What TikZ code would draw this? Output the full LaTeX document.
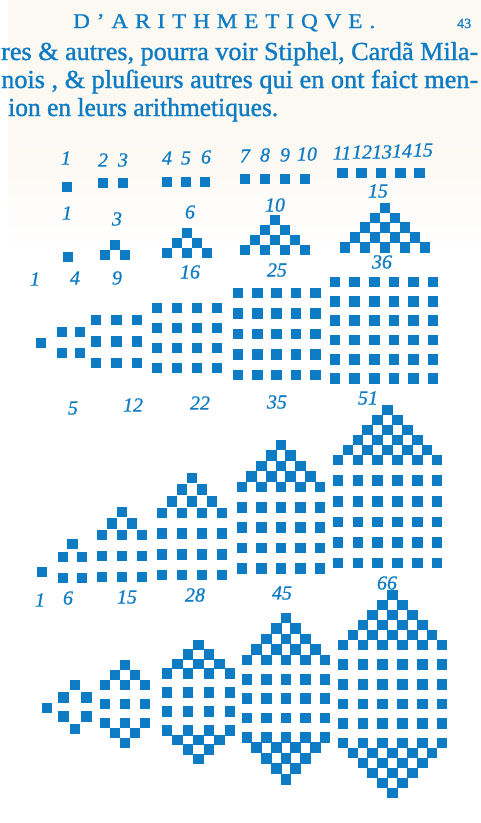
\documentclass[tikz,border=0pt]{standalone}
\usepackage{fontspec}
\setmainfont{Liberation Serif}
\usepackage{graphicx}
\definecolor{ink}{RGB}{14,124,196}
\definecolor{paper}{RGB}{252,248,242}
\tikzset{
  lab/.style={text=ink, font=\fontsize{20}{20}\selectfont\itshape\addfontfeature{FakeBold=0.8}, inner sep=0pt},
  body/.style={text=ink, anchor=base west, inner sep=0pt},
}
\newcommand\Sq[2]{\fill[ink] ({#1-5.3},{#2-5.3}) rectangle ({#1+5.3},{#2+5.3});}
\newcommand\Grid[6]{%
  \foreach \i in {1,...,#5}{\foreach \j in {1,...,#6}{%
    \pgfmathsetmacro\xx{#1+(\i-1)*#3}\pgfmathsetmacro\yy{#2+(\j-1)*#4}%
    \Sq{\xx}{\yy}}}}
\newcommand\TriRow[4]{%
  \foreach \i in {1,...,#4}{\pgfmathsetmacro\xx{#1+(\i-1-(#4-1)/2)*#3}\Sq{\xx}{#2}}}
\newcommand\Tri[5]{%
  \foreach \k in {1,...,#5}{\pgfmathsetmacro\yy{#2+(\k-1)*#4}\TriRow{#1}{\yy}{#3}{\k}}}
\newcommand\Pent[6]{%
  \Grid{#1}{#2}{#3}{#4}{#5}{#5}%
  \pgfmathsetmacro\pxc{#1+(#5-1)*#3/2}%
  \pgfmathtruncatemacro\pn{#5-1}%
  \foreach \k in {1,...,\pn}{\pgfmathsetmacro\yy{#2-(#5-\k)*#6}\TriRow{\pxc}{\yy}{#3}{\k}}}
\newcommand\Hex[6]{%
  \pgfmathsetmacro\hyn{#2+(#6-1)*#4}%
  \pgfmathsetmacro\hyb{\hyn+(#6-1)*#5}%
  \foreach \k in {1,...,#6}{%
    \pgfmathsetmacro\yy{#2+(\k-1)*#4}\TriRow{#1}{\yy}{#3}{\k}%
    \pgfmathsetmacro\yy{\hyb+(#6-\k)*#4}\TriRow{#1}{\yy}{#3}{\k}}%
  \ifnum#6>2
    \pgfmathtruncatemacro\hm{#6-2}%
    \foreach \m in {1,...,\hm}{\pgfmathsetmacro\yy{\hyn+\m*#5}\TriRow{#1}{\yy}{#3}{#6}}%
  \fi}
\begin{document}
\begin{tikzpicture}[x=1pt,y=-1pt]
\useasboundingbox (0,0) rectangle (481,823);
\fill[white] (0,0) rectangle (481,823);
\fill[paper] (8,0) rectangle (481,140);
\shade[top color=paper, bottom color=white] (8,139.5) rectangle (481,250);

% header and text
\node[body] (head) at (73,28) {\resizebox{302pt}{\height}{\fontsize{21}{21}\selectfont\addfontfeature{LetterSpace=30,FakeBold=1}D’ARITHMETIQVE.}};
\node[body] (folio) at (457,28) {\fontsize{14}{14}\selectfont\addfontfeature{FakeBold=1}43};
\node[body] (line1) at (1,60) {\resizebox{477pt}{\height}{\fontsize{26}{26}\selectfont\addfontfeature{FakeBold=1.2}res \& autres, pourra voir Stiphel, Cardã Mila-}};
\node[body] (line2) at (1,88) {\resizebox{477pt}{\height}{\fontsize{26}{26}\selectfont\addfontfeature{FakeBold=1.2}nois , \& pluſieurs autres qui en ont faict men-}};
\node[body] (line3) at (8,116) {\resizebox{270pt}{\height}{\fontsize{26}{26}\selectfont\addfontfeature{FakeBold=1.2}ion en leurs arithmetiques.}};

% linear numbers
\node[lab] (n1) at (66,158) {1};
\node[lab] (n2) at (103,160) {2};
\node[lab] (n3) at (123,160) {3};
\node[lab] (n4) at (167,158) {4};
\node[lab] (n5) at (186,158) {5};
\node[lab] (n6) at (206,157) {6};
\node[lab] (n7) at (245,156) {7};
\node[lab] (n8) at (265,155) {8};
\node[lab] (n9) at (285,155) {9};
\node[lab] (n10) at (307,154) {10};
\node[lab] (n11) at (342,153) {11};
\node[lab] (n12) at (362,152) {12};
\node[lab] (n13) at (382,152) {13};
\node[lab] (n14) at (402,151) {14};
\node[lab] (n15) at (423,150) {15};
\Sq{67}{187}
\TriRow{113}{183}{20}{2}
\TriRow{186}{182}{19}{3}
\TriRow{275}{179}{20}{4}
\TriRow{381}{173}{19.3}{5}

% triangular
\node[lab] (t1) at (67,213) {1};
\node[lab] (t3) at (117,219) {3};
\node[lab] (t6) at (190,212) {6};
\node[lab] (t10) at (275,205) {10};
\node[lab] (t15) at (378,191) {15};
\Sq{68}{257}
\Tri{115}{245}{20}{10}{2}
\Tri{187}{233}{20}{10}{3}
\Tri{275}{220}{20}{10}{4}
\Tri{385}{208}{20}{9.8}{5}

% square
\node[lab] (s1) at (35,279) {1};
\node[lab] (s4) at (75,278) {4};
\node[lab] (s9) at (117,278) {9};
\node[lab] (s16) at (190,272) {16};
\node[lab] (s25) at (277,270) {25};
\node[lab] (s36) at (382,262) {36};
\Sq{41}{343}
\Grid{62}{332}{18}{21}{2}{2}
\Grid{96}{320}{20.5}{21.5}{3}{3}
\Grid{157}{308}{20}{20}{4}{4}
\Grid{238}{293}{19.3}{20.5}{5}{5}
\Grid{335}{282}{19.6}{19.3}{6}{6}

% pentagonal
\node[lab] (p5) at (73,408) {5};
\node[lab] (p12) at (133,405) {12};
\node[lab] (p22) at (200,403) {22};
\node[lab] (p35) at (277,402) {35};
\node[lab] (p51) at (368,398) {51};
\Sq{42}{572}
\Pent{63}{557}{19}{21}{2}{13}
\Pent{102}{535}{20}{21}{3}{11.5}
\Pent{162}{513}{20}{20.7}{4}{11.7}
\Pent{242}{487}{19.5}{20.3}{5}{10.5}
\Pent{338}{460}{19.8}{20.6}{6}{10}

% hexagonal
\node[lab] (h1) at (40,600) {1};
\node[lab] (h6) at (68,598) {6};
\node[lab] (h15) at (127,597) {15};
\node[lab] (h28) at (195,595) {28};
\node[lab] (h45) at (282,593) {45};
\node[lab] (h66) at (387,583) {66};
\Sq{47}{708}
\Hex{75}{685}{23}{12.5}{19}{2}
\Hex{125}{665}{20}{10}{19}{3}
\Hex{198.5}{645}{21}{9.5}{19}{4}
\Hex{286}{618}{19.5}{10.5}{19.3}{5}
\Hex{392.5}{595}{19.8}{10}{19.6}{6}
\end{tikzpicture}
\end{document}
